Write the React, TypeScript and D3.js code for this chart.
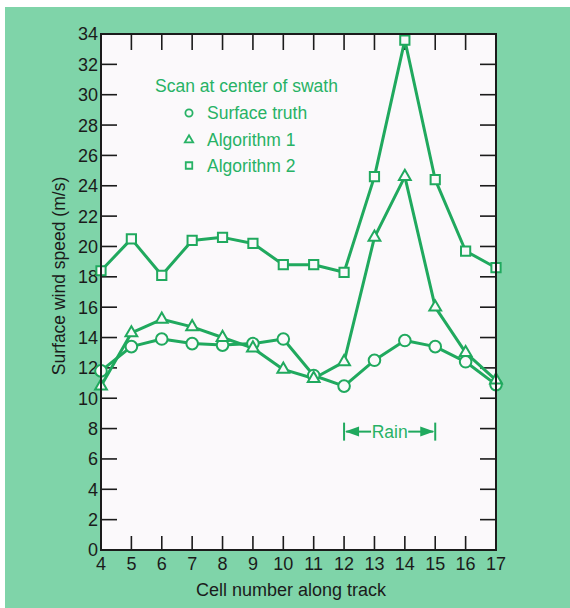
import React, { useRef, useEffect } from "react";
import * as d3 from "d3";

// values
const cells = [4, 5, 6, 7, 8, 9, 10, 11, 12, 13, 14, 15, 16, 17];
const surfaceTruth = [11.8, 13.4, 13.9, 13.6, 13.5, 13.6, 13.9, 11.5, 10.8, 12.5, 13.8, 13.4, 12.4, 10.9];
const algorithm1 = [10.8, 14.3, 15.2, 14.7, 14.0, 13.3, 11.9, 11.3, 12.4, 20.6, 24.6, 16.0, 13.0, 11.2];
const algorithm2 = [18.4, 20.5, 18.1, 20.4, 20.6, 20.2, 18.8, 18.8, 18.3, 24.6, 33.6, 24.4, 19.7, 18.6];
const yTicks = [0, 2, 4, 6, 8, 10, 12, 14, 16, 18, 20, 22, 24, 26, 28, 30, 32, 34];
const xTicks = [4, 5, 6, 7, 8, 9, 10, 11, 12, 13, 14, 15, 16, 17];
const rainCells = [12, 15];
const rainLevel = 7.8;

const series = [
  { name: "Surface truth", values: surfaceTruth, shape: "circle" },
  { name: "Algorithm 1", values: algorithm1, shape: "triangle" },
  { name: "Algorithm 2", values: algorithm2, shape: "square" },
];

const GREEN = "#20a95e";
const TEXT_GREEN = "#27b265";
const BG = "#7fd4a9";
const INK = "#1b1b1b";
const FONT = "'Liberation Sans', Arial, Helvetica, sans-serif";

const App = () => {
  const svgRef = useRef<SVGSVGElement>(null);

  useEffect(() => {
    const W = 570;
    const H = 608;
    const left = 101, right = 496, top = 34, bottom = 550;

    const svg = d3.select(svgRef.current);
    svg.selectAll("*").remove();
    svg.attr("width", W).attr("height", H);

    svg.append("rect").attr("width", W).attr("height", H).attr("fill", "#ffffff");
    svg.append("rect").attr("x", 5).attr("y", 7).attr("width", W - 5).attr("height", H - 7).attr("fill", BG);

    const x = d3.scaleLinear().domain([4, 17]).range([left, right]);
    const y = d3.scaleLinear().domain([0, 34]).range([bottom, top]);

    svg.append("rect")
      .attr("x", left).attr("y", top)
      .attr("width", right - left).attr("height", bottom - top)
      .attr("fill", "#fbf9fb");

    // inward ticks on all four sides
    const tickLen = 16;
    const inner = yTicks.filter((d) => d > 0 && d < 34);
    const innerX = xTicks.filter((d) => d > 4 && d < 17);
    const ticks = svg.append("g").attr("stroke", INK).attr("stroke-width", 1.6);
    inner.forEach((d) => {
      ticks.append("line").attr("x1", left).attr("x2", left + tickLen).attr("y1", y(d)).attr("y2", y(d));
      ticks.append("line").attr("x1", right).attr("x2", right - tickLen).attr("y1", y(d)).attr("y2", y(d));
    });
    innerX.forEach((d) => {
      ticks.append("line").attr("x1", x(d)).attr("x2", x(d)).attr("y1", bottom).attr("y2", bottom - tickLen + 2);
      ticks.append("line").attr("x1", x(d)).attr("x2", x(d)).attr("y1", top).attr("y2", top + tickLen);
    });

    svg.append("g")
      .selectAll("text")
      .data(yTicks)
      .enter()
      .append("text")
      .attr("x", left - 3)
      .attr("y", (d) => y(d))
      .attr("dy", "0.36em")
      .attr("text-anchor", "end")
      .attr("font-family", FONT)
      .attr("font-size", 18)
      .attr("fill", INK)
      .text((d) => d);

    svg.append("g")
      .selectAll("text")
      .data(xTicks)
      .enter()
      .append("text")
      .attr("x", (d) => x(d))
      .attr("y", bottom + 20)
      .attr("text-anchor", "middle")
      .attr("font-family", FONT)
      .attr("font-size", 18)
      .attr("fill", INK)
      .text((d) => d);

    svg.append("text")
      .attr("x", 291).attr("y", 596)
      .attr("text-anchor", "middle")
      .attr("font-family", FONT).attr("font-size", 18)
      .attr("fill", INK)
      .text("Cell number along track");

    svg.append("text")
      .attr("transform", "translate(65,276) rotate(-90)")
      .attr("text-anchor", "middle")
      .attr("font-family", FONT).attr("font-size", 17.5)
      .attr("fill", INK)
      .text("Surface wind speed (m/s)");

    // lines
    const line = d3.line<number>()
      .x((_, i) => x(cells[i]))
      .y((d) => y(d));

    const drawMarker = (g, shape, cx, cy, big) => {
      if (shape === "circle") {
        g.append("circle").attr("cx", cx).attr("cy", cy).attr("r", big ? 5.8 : 3.6);
      } else {
        const sym = shape === "triangle" ? d3.symbolTriangle : d3.symbolSquare;
        const size = shape === "triangle" ? (big ? 60 : 30) : (big ? 85 : 42);
        g.append("path")
          .attr("transform", `translate(${cx},${cy})`)
          .attr("d", d3.symbol().type(sym).size(size)());
      }
    };

    series.forEach((s) => {
      svg.append("path")
        .datum(s.values)
        .attr("d", line)
        .attr("fill", "none")
        .attr("stroke", GREEN)
        .attr("stroke-width", 3)
        .attr("stroke-linejoin", "round");
    });

    series.forEach((s) => {
      const g = svg.append("g").attr("fill", "#fbf9fb").attr("stroke", GREEN).attr("stroke-width", 2);
      s.values.forEach((v, i) => drawMarker(g, s.shape, x(cells[i]), y(v), true));
    });

    // frame
    svg.append("rect")
      .attr("x", left).attr("y", top)
      .attr("width", right - left).attr("height", bottom - top)
      .attr("fill", "none").attr("stroke", INK).attr("stroke-width", 2);

    // legend
    svg.append("text")
      .attr("x", 155).attr("y", 86).attr("dy", "0.36em")
      .attr("font-family", FONT).attr("font-size", 17.5)
      .attr("fill", TEXT_GREEN)
      .text("Scan at center of swath");
    const legendY = [113, 140, 165.5];
    series.forEach((s, i) => {
      const g = svg.append("g").attr("fill", "none").attr("stroke", TEXT_GREEN).attr("stroke-width", 1.8);
      drawMarker(g, s.shape, 189, legendY[i], false);
      svg.append("text")
        .attr("x", 207).attr("y", legendY[i]).attr("dy", "0.36em")
        .attr("font-family", FONT).attr("font-size", 17.5)
        .attr("fill", TEXT_GREEN)
        .text(s.name);
    });

    // rain annotation
    const rx0 = x(rainCells[0]);
    const rx1 = x(rainCells[1]);
    const ry = y(rainLevel);
    const rain = svg.append("g").attr("stroke", GREEN).attr("fill", GREEN);
    rain.append("line").attr("x1", rx0).attr("x2", rx0).attr("y1", ry - 9).attr("y2", ry + 9).attr("stroke-width", 2);
    rain.append("line").attr("x1", rx1).attr("x2", rx1).attr("y1", ry - 9).attr("y2", ry + 9).attr("stroke-width", 2);
    rain.append("line").attr("x1", rx0 + 2).attr("x2", rx0 + 27).attr("y1", ry).attr("y2", ry).attr("stroke-width", 2);
    rain.append("line").attr("x1", rx1 - 27).attr("x2", rx1 - 2).attr("y1", ry).attr("y2", ry).attr("stroke-width", 2);
    rain.append("path").attr("stroke", "none")
      .attr("d", `M${rx0 + 1},${ry} L${rx0 + 15},${ry - 5} L${rx0 + 15},${ry + 5} Z`);
    rain.append("path").attr("stroke", "none")
      .attr("d", `M${rx1 - 1},${ry} L${rx1 - 15},${ry - 5} L${rx1 - 15},${ry + 5} Z`);
    svg.append("text")
      .attr("x", (rx0 + rx1) / 2).attr("y", ry).attr("dy", "0.36em")
      .attr("text-anchor", "middle")
      .attr("font-family", FONT).attr("font-size", 17.5)
      .attr("fill", TEXT_GREEN)
      .text("Rain");
  }, []);

  return <svg ref={svgRef} style={{ position: "absolute", left: 0, top: 0 }}></svg>;
};

export default App;
